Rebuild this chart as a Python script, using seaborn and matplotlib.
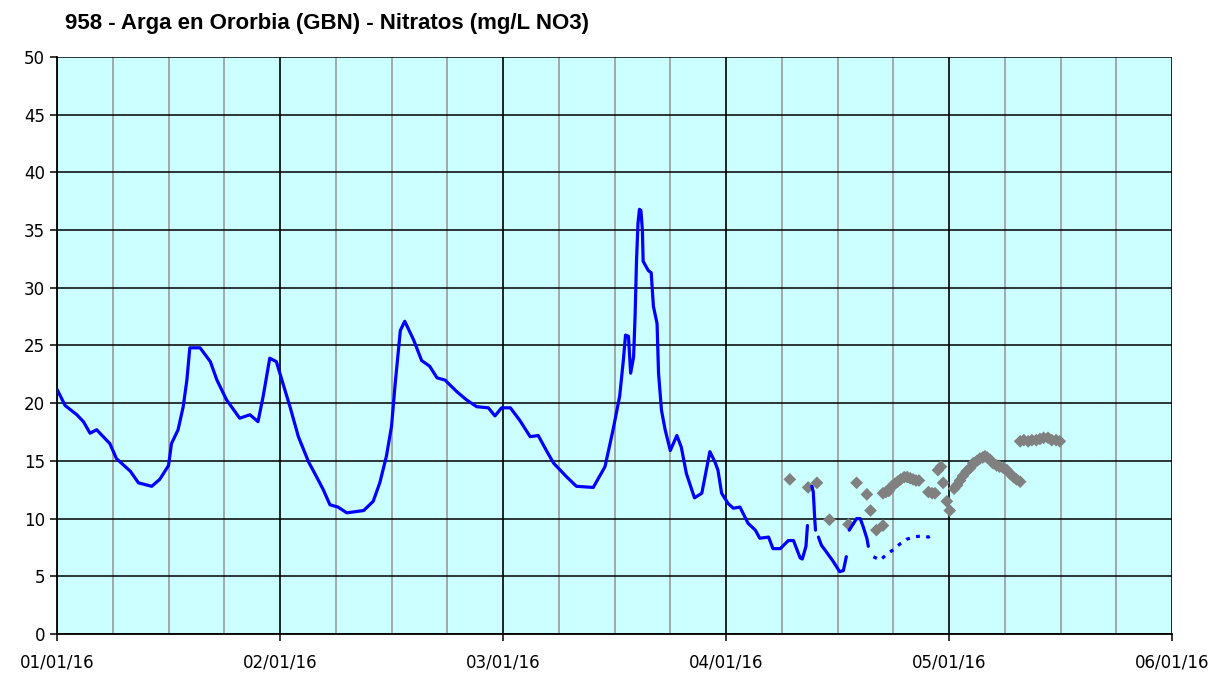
import matplotlib
matplotlib.use("Agg")
import matplotlib.pyplot as plt
import numpy as np
import pandas as pd
import seaborn as sns

# Blue series (days since 01/01/16), segments split where the record has gaps
blue_day = [0.0, 1.1, 2.7, 3.6, 4.5, 5.4, 7.2, 8.1, 10.0, 11.1, 12.9, 14.0, 15.2, 15.6,
            16.5, 17.2, 17.7, 18.1, 19.5, 20.9, 21.8, 23.1, 24.9, 26.3, 27.4, 28.1, 29.0,
            29.9, 30.8, 31.8, 32.9, 34.3, 35.4, 36.3, 37.2, 38.3, 39.5, 41.8, 43.1, 44.0,
            44.9, 45.6, 46.1, 46.8, 47.4, 48.6, 49.7, 50.8, 51.8, 52.9, 54.5, 55.8, 57.2,
            58.8, 59.7, 60.6, 61.8, 63.1, 64.5, 65.6, 66.8, 67.7, 69.5, 70.8, 73.1, 74.7,
            75.8, 76.7, 77.2, 77.5, 77.9, 78.2, 78.6, 78.8, 79.0, 79.2, 79.4, 79.6, 79.8,
            79.9, 80.6, 81.0, 81.3, 81.8, 82.0, 82.4, 82.9, 83.6, 84.5, 85.1, 85.8, 86.9,
            87.9, 88.6, 89.0, 89.7, 90.1, 90.6, 91.5, 92.2, 93.1, 94.2, 95.2, 95.8, 97.0,
            97.6, 98.6, 99.7, 100.4, 101.3, 101.6, 102.1, 102.3,
            102.9, 103.1, 103.3, 103.4,
            103.8, 104.2, 104.9, 105.8, 106.7, 107.2, 107.6,
            108.0, 109.0, 109.5, 109.9, 110.4, 110.6]
blue_val = [21.2, 19.8, 19.0, 18.4, 17.4, 17.7, 16.5, 15.2, 14.1, 13.1, 12.8, 13.4, 14.6, 16.5,
            17.7, 19.7, 22.0, 24.8, 24.8, 23.6, 22.0, 20.3, 18.7, 19.0, 18.4, 20.6, 23.9,
            23.6, 21.7, 19.6, 17.1, 14.9, 13.6, 12.5, 11.2, 11.0, 10.5, 10.7, 11.5, 13.1,
            15.4, 18.0, 21.7, 26.3, 27.1, 25.5, 23.7, 23.2, 22.2, 22.0, 21.0, 20.3, 19.7,
            19.6, 18.9, 19.6, 19.6, 18.5, 17.1, 17.2, 15.8, 14.8, 13.6, 12.8, 12.7, 14.5,
            17.7, 20.6, 23.7, 25.9, 25.8, 22.6, 24.0, 27.5, 32.4, 35.6, 36.8, 36.7, 35.0,
            32.3, 31.5, 31.3, 28.4, 26.9, 22.6, 19.4, 17.7, 15.9, 17.2, 16.2, 13.9, 11.8,
            12.2, 14.5, 15.8, 14.9, 14.2, 12.2, 11.3, 10.9, 11.0, 9.6, 9.0, 8.3, 8.4,
            7.4, 7.4, 8.1, 8.1, 6.6, 6.5, 7.6, 9.4,
            12.8, 12.3, 9.9, 9.0,
            8.4, 7.7, 7.1, 6.3, 5.4, 5.5, 6.7,
            9.0, 10.0, 10.0, 9.3, 8.3, 7.6]
# number of points in each unbroken piece of the blue line (last three pieces)
blue_tail_pieces = [4, 7, 6]

# Sparse tail of the blue series
tail_day = [111.3, 112.2, 113.3, 114.0, 114.9, 115.8, 116.7, 117.9, 118.8, 119.5]
tail_val = [6.7, 6.4, 7.0, 7.3, 7.8, 8.2, 8.4, 8.5, 8.4, 8.6]

# Grey series (points)
grey_day = [99.9, 102.4, 103.6, 105.3, 107.9, 109.0, 110.4, 110.9, 111.7, 112.6, 112.6,
            113.0, 113.4, 113.8, 114.2, 114.6, 115.0, 115.5, 115.9, 116.3, 116.7, 117.1, 117.5,
            118.8, 119.3, 119.7, 120.1, 120.5, 120.8, 121.3, 121.7,
            122.3, 122.7, 123.1, 123.5, 124.0, 124.5, 124.9, 125.4, 125.8, 126.2, 126.5,
            126.8, 127.2, 127.6, 128.1, 128.5, 129.0, 129.5, 129.9, 130.4, 130.8, 131.3,
            131.3, 131.8, 132.4, 132.9, 133.5, 134.0, 134.5, 135.1, 135.6, 136.2, 136.7]
grey_val = [13.4, 12.7, 13.1, 9.9, 9.5, 13.1, 12.1, 10.7, 9.0, 9.4, 12.2,
            12.3, 12.4, 12.8, 13.0, 13.2, 13.4, 13.6, 13.6, 13.5, 13.4, 13.3, 13.3,
            12.3, 12.2, 12.2, 14.2, 14.5, 13.1, 11.5, 10.7,
            12.6, 12.9, 13.3, 13.7, 14.1, 14.4, 14.8, 15.0, 15.2, 15.3, 15.4,
            15.3, 15.1, 14.8, 14.6, 14.5, 14.4, 14.2, 13.9, 13.6, 13.4, 13.2,
            16.7, 16.8, 16.7, 16.8, 16.8, 16.9, 17.0, 17.0, 16.8, 16.8, 16.7]

month_labels = ["01/01/16", "02/01/16", "03/01/16", "04/01/16", "05/01/16", "06/01/16"]
title = "958 - Arga en Ororbia (GBN) - Nitratos (mg/L NO3)"

pieces = [len(blue_day) - sum(blue_tail_pieces)] + blue_tail_pieces
blue_seg = np.repeat(np.arange(len(pieces)), pieces)
blue_df = pd.DataFrame({"day": blue_day, "val": blue_val, "seg": blue_seg})
tail_df = pd.DataFrame({"day": tail_day, "val": tail_val})
grey_df = pd.DataFrame({"day": grey_day, "val": grey_val})

sns.set_style("white")
plt.rcParams["font.family"] = ["DejaVu Sans"]

fig = plt.figure(figsize=(12.32, 6.75), dpi=100)
ax = fig.add_axes([0.0463, 0.0607, 0.905, 0.8549])
ax.set_facecolor("#CCFFFF")

span = 152.0
month_pos = np.linspace(0, span, 6)
minor_pos = np.linspace(0, span, 21)

# grid
for x in minor_pos:
    ax.axvline(x, color="#A0A0A0", lw=1.3, zorder=1)
for x in month_pos:
    ax.axvline(x, color="black", lw=1.1, zorder=1.1)
for y in range(0, 51, 5):
    ax.axhline(y, color="black", lw=1.1, zorder=1.1)

sns.scatterplot(data=grey_df, x="day", y="val", marker="D", s=42, color="#808080",
                edgecolor="none", ax=ax, zorder=3)
for seg, d in blue_df.groupby("seg"):
    sns.lineplot(data=d, x="day", y="val", color="#0000FF", lw=2.3, estimator=None,
                 sort=False, ax=ax, zorder=4)
sns.lineplot(data=tail_df, x="day", y="val", color="#0000FF", lw=2.3, estimator=None,
             sort=False, ax=ax, zorder=4, linestyle=(0, (1.2, 2.0)))

ax.set_xlim(0, span)
ax.set_ylim(0, 50)
ax.set_xticks(month_pos)
ax.set_xticklabels(month_labels)
ax.set_yticks(range(0, 51, 5))
ax.tick_params(axis="both", labelsize=12, colors="black", length=5, width=1.1,
               direction="out", bottom=True, left=True)
ax.tick_params(axis="x", pad=9)
ax.set_xlabel("")
ax.set_ylabel("")
for side in ["left", "bottom"]:
    ax.spines[side].set_color("black")
    ax.spines[side].set_linewidth(1.3)
for side in ["top", "right"]:
    ax.spines[side].set_visible(False)

fig.text(0.053, 0.965, title, fontsize=16, fontweight="bold", family="Liberation Sans",
         color="black", ha="left", va="center")

fig.savefig("out.png", dpi=100)
